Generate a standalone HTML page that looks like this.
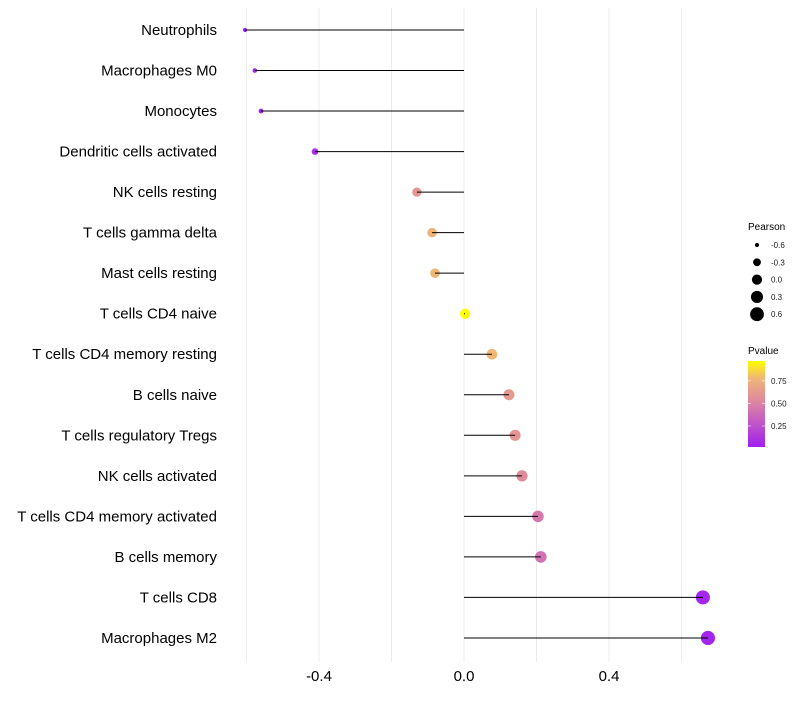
<!DOCTYPE html>
<html><head><meta charset="utf-8"><style>
body{margin:0;background:#fff;font-family:"Liberation Sans",sans-serif;}
</style></head><body>
<svg id="chart" width="800" height="700" xmlns="http://www.w3.org/2000/svg">
<g id="grid"></g>
<g id="marks"></g>
<g id="ylab"></g>
<g id="xlab"></g>
<g id="legend"></g>
</svg>
<script>
const categories=["Neutrophils","Macrophages M0","Monocytes","Dendritic cells activated","NK cells resting","T cells gamma delta","Mast cells resting","T cells CD4 naive","T cells CD4 memory resting","B cells naive","T cells regulatory  Tregs ","NK cells activated","T cells CD4 memory activated","B cells memory","T cells CD8","Macrophages M2"];
const pearson=[-0.604,-0.577,-0.56,-0.411,-0.13,-0.088,-0.08,0.003,0.077,0.124,0.141,0.16,0.204,0.212,0.659,0.673];
const pvalue=[0.02,0.03,0.03,0.1,0.6,0.76,0.78,0.97,0.78,0.62,0.6,0.55,0.45,0.42,0.05,0.04];
const xTicks=[-0.4,0,0.4];
const xMinor=[-0.6,-0.2,0.2,0.6];
const sizeLegend=[-0.6,-0.3,0,0.3,0.6];
const pTicks=[0.25,0.5,0.75];
const NS="http://www.w3.org/2000/svg";
const x=v=>464+v*362.5;
const y=i=>30+i*40.53;
const rad=v=>Math.sqrt(26+36*v);
const pMin=0.017,pMax=0.97;
const stops=[[0,[160,32,240]],[0.5,[218,130,165]],[0.8,[240,182,118]],[1,[255,255,0]]];
function col(p){let t=Math.max(0,Math.min(1,(p-pMin)/(pMax-pMin)));for(let k=1;k<stops.length;k++){if(t<=stops[k][0]){const a=stops[k-1],b=stops[k];const f=(t-a[0])/(b[0]-a[0]);return `rgb(${a[1].map((c,j)=>Math.round(c+(b[1][j]-c)*f)).join(",")})`;}}return "rgb(255,255,0)";}
function mk(tag,at,parent){const e=document.createElementNS(NS,tag);for(const k in at)e.setAttribute(k,at[k]);document.getElementById(parent).appendChild(e);return e;}
[...xTicks,...xMinor].forEach(v=>{const l=mk("line",{x1:x(v),x2:x(v),y1:8,y2:662,stroke:"#ececec","stroke-width":1},"grid");

});
categories.forEach((c,i)=>{
const cy=y(i);
const pt=mk("circle",{cx:x(pearson[i]),cy:cy,r:rad(pearson[i]),fill:col(pvalue[i])},"marks");


const seg=mk("line",{x1:x(0),x2:x(pearson[i]),y1:cy,y2:cy,stroke:"#000","stroke-width":1},"marks");


const t=mk("text",{x:217,y:cy+5,"text-anchor":"end","font-size":15,fill:"#000"},"ylab");
t.textContent=c;


});
xTicks.forEach(v=>{const t=mk("text",{x:x(v),y:681,"text-anchor":"middle","font-size":15,fill:"#000"},"xlab");
t.textContent=v===0?"0.0":v.toFixed(1);

});
let t=mk("text",{x:748,y:230,"font-size":10,fill:"#000"},"legend");t.textContent="Pearson";


sizeLegend.forEach((v,k)=>{const cy=245+k*17.3;
const c=mk("circle",{cx:757,cy:cy,r:rad(v),fill:"#000"},"legend");


const l=mk("text",{x:771,y:cy+3,"font-size":8,fill:"#1a1a1a"},"legend");l.textContent=v===0?"0.0":v.toFixed(1);

});
t=mk("text",{x:748,y:354,"font-size":10,fill:"#000"},"legend");t.textContent="Pvalue";


const defs=mk("defs",{},"legend");
const g=document.createElementNS(NS,"linearGradient");g.setAttribute("id","pg");g.setAttribute("x1","0");g.setAttribute("y1","1");g.setAttribute("x2","0");g.setAttribute("y2","0");defs.appendChild(g);
stops.forEach(s=>{const st=document.createElementNS(NS,"stop");st.setAttribute("offset",s[0]);st.setAttribute("stop-color",`rgb(${s[1].join(",")})`);g.appendChild(st);});
const bar=mk("rect",{x:748,y:361,width:17,height:86,fill:"url(#pg)"},"legend");


pTicks.forEach(p=>{const cy=447-(p-pMin)/(pMax-pMin)*86;
mk("line",{x1:748,x2:751,y1:cy,y2:cy,stroke:"#fff","stroke-opacity":0.6},"legend");
mk("line",{x1:762,x2:765,y1:cy,y2:cy,stroke:"#fff","stroke-opacity":0.6},"legend");
const l=mk("text",{x:771,y:cy+3,"font-size":8,fill:"#1a1a1a"},"legend");l.textContent=p.toFixed(2);

});
</script>
</body></html>
